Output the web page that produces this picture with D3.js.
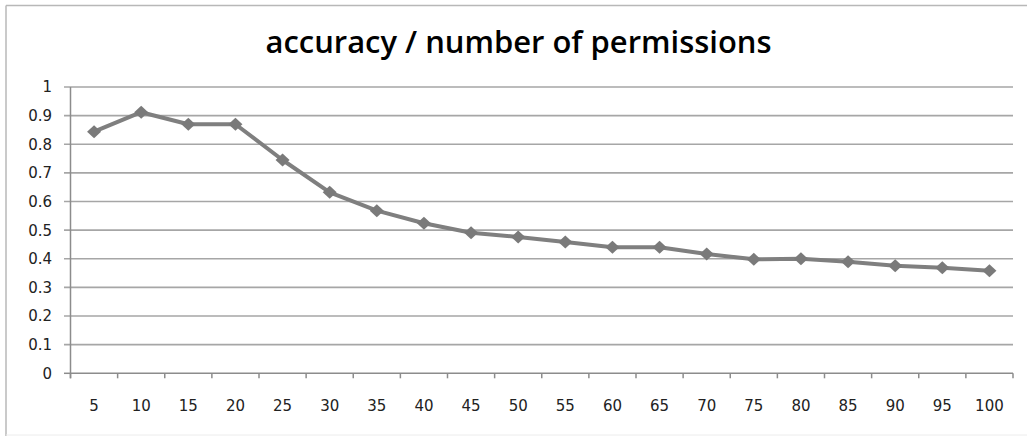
<!DOCTYPE html>
<html><head><meta charset="utf-8">
<script src="https://cdn.jsdelivr.net/npm/d3@7"></script>
<style>body{margin:0;background:#fff}svg{display:block}</style>
</head><body><svg id="c" width="1027" height="436"></svg>
<script>
const title = "accuracy / number of permissions";
const categories = ["5","10","15","20","25","30","35","40","45","50","55","60","65","70","75","80","85","90","95","100"];
const accuracy = [0.844,0.912,0.870,0.870,0.745,0.632,0.568,0.524,0.491,0.476,0.459,0.440,0.440,0.417,0.398,0.400,0.390,0.376,0.369,0.358];
const yTicks = [0,0.1,0.2,0.3,0.4,0.5,0.6,0.7,0.8,0.9,1];
const yTickLabels = ["0","0.1","0.2","0.3","0.4","0.5","0.6","0.7","0.8","0.9","1"];

const svg = d3.select("#c");
const L = 70.5, R = 1013, T = 87, B = 373.3;
const x = d3.scaleBand().domain(categories).range([L, R]);
const y = d3.scaleLinear().domain([0, 1]).range([B, T]);

// frame
svg.append("line").attr("x1",6).attr("x2",1027).attr("y1",5.5).attr("y2",5.5).attr("stroke","#b8b8b8").attr("stroke-width",1.5);
svg.append("line").attr("x1",6).attr("x2",6).attr("y1",5.5).attr("y2",436).attr("stroke","#b8b8b8").attr("stroke-width",1.5);
svg.append("line").attr("x1",6).attr("x2",1027).attr("y1",435).attr("y2",435).attr("stroke","#ececec").attr("stroke-width",1);

// title
const t = svg.append("text").attr("x",518.5).attr("y",52.5).attr("text-anchor","middle")
  .style("font-family","'Open Sans', sans-serif").style("font-weight","600").style("font-size","29px")
  .attr("fill","#000").text(title);
const tw = t.node().getComputedTextLength();
t.style("font-size", (29*506/tw).toFixed(2)+"px");

// gridlines (with left tick marks)
svg.append("g").selectAll("line").data(yTicks.filter(v=>v>0)).join("line")
  .attr("x1",64).attr("x2",R).attr("y1",d=>y(d)).attr("y2",d=>y(d))
  .attr("stroke","#a6a6a6").attr("stroke-width",1.6);

// y axis
svg.append("line").attr("x1",L).attr("x2",L).attr("y1",T).attr("y2",B+5).attr("stroke","#8c8c8c").attr("stroke-width",1.5);
svg.append("line").attr("x1",64).attr("x2",L).attr("y1",B).attr("y2",B).attr("stroke","#8c8c8c").attr("stroke-width",1.5);
// x axis
svg.append("line").attr("x1",L).attr("x2",R).attr("y1",B).attr("y2",B).attr("stroke","#8c8c8c").attr("stroke-width",1.5);
const bounds = categories.map(c=>x(c)).concat([R]);
svg.append("g").selectAll("line").data(bounds).join("line")
  .attr("x1",d=>d).attr("x2",d=>d).attr("y1",B).attr("y2",B+5)
  .attr("stroke","#8c8c8c").attr("stroke-width",1.5);

// labels
const fontTick = "'DejaVu Sans', sans-serif";
svg.append("g").selectAll("text").data(yTicks).join("text")
  .attr("x",52).attr("y",d=>y(d)).attr("dy","0.36em").attr("text-anchor","end")
  .style("font-family",fontTick).style("font-size","15px").attr("fill","#222")
  .text((d,i)=>yTickLabels[i]);
svg.append("g").selectAll("text").data(categories).join("text")
  .attr("x",d=>x(d)+x.bandwidth()/2).attr("y",410.5).attr("text-anchor","middle")
  .style("font-family",fontTick).style("font-size","15px").attr("fill","#222")
  .text(d=>d);

// series line
const pts = categories.map((c,i)=>[x(c)+x.bandwidth()/2, y(accuracy[i])]);
svg.append("path").attr("d", d3.line()(pts)).attr("fill","none")
  .attr("stroke","#7f7f7f").attr("stroke-width",4).attr("stroke-linejoin","round");
svg.append("g").selectAll("path").data(pts).join("path")
  .attr("transform",d=>`translate(${d[0]},${d[1]})`)
  .attr("d","M0,-6.5L7,0L0,6.5L-7,0Z").attr("fill","#7a7a7a");
</script></body></html>
